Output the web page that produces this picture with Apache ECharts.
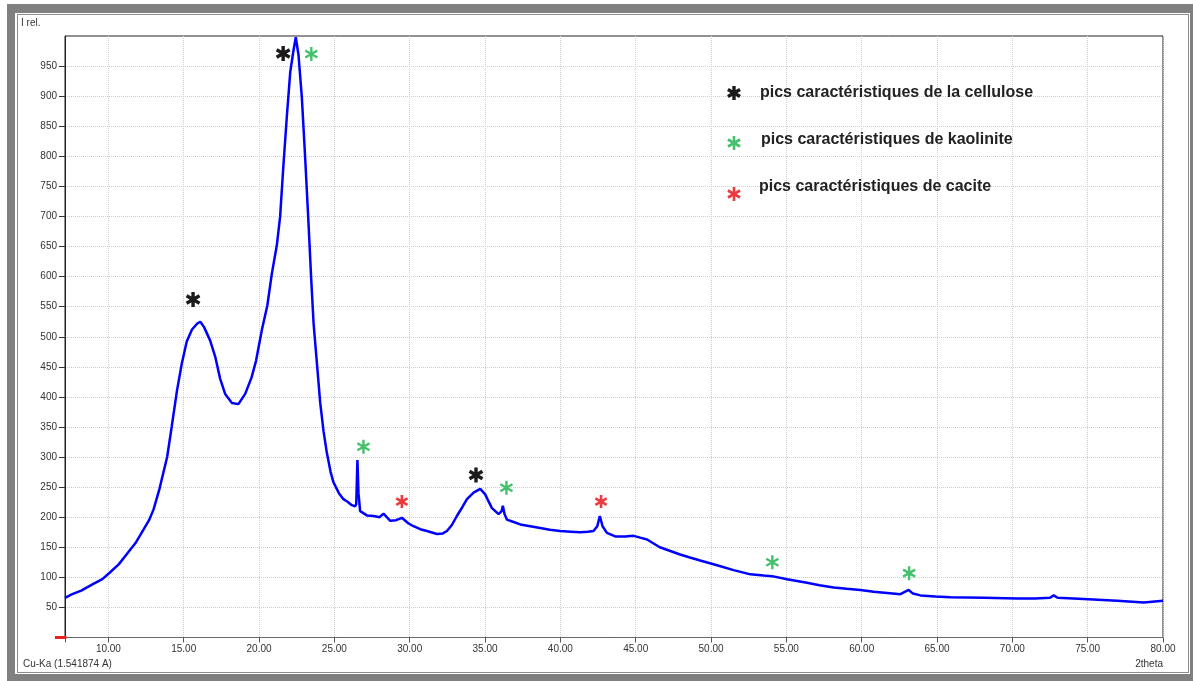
<!DOCTYPE html>
<html>
<head>
<meta charset="utf-8">
<script src="https://cdn.jsdelivr.net/npm/echarts@6/dist/echarts.min.js"></script>
<style>
  html, body { margin: 0; padding: 0; background: #fff; }
  #frame { position: absolute; left: 7px; top: 4px; width: 1186px; height: 677px; background: #808080; }
  #panel { position: absolute; left: 15px; top: 13px; width: 1175px; height: 661px; background: #fff; }
  #inner { position: absolute; left: 17px; top: 14px; width: 1170px; height: 657px; border: 1px solid #8c8c8c; }
  #chart { position: absolute; left: 0; top: 0; width: 1193px; height: 681px; }
</style>
</head>
<body>
<div id="frame"></div>
<div id="panel"></div>
<div id="inner"></div>
<div id="chart"></div>
<script>
// Diffractogram: 2theta (degrees) vs relative intensity
const twoTheta = [
  7.12, 7.6, 8.2, 9.0, 9.6, 10.1, 10.7, 11.2, 11.8, 12.3, 12.7, 13.0, 13.4, 13.9, 14.2, 14.55,
  14.87, 15.2, 15.55, 15.9, 16.1, 16.35, 16.75, 17.1, 17.42, 17.75, 18.2, 18.63, 19.08, 19.5,
  19.8, 20.2, 20.55, 20.85, 21.18, 21.4, 21.62, 21.85, 22.07, 22.28, 22.44, 22.62, 22.84, 23.06,
  23.28, 23.46, 23.62, 23.84, 24.06, 24.28, 24.5, 24.75, 24.94, 25.3, 25.6, 25.85, 26.16, 26.38,
  26.45, 26.53, 26.6, 26.71, 27.16, 27.6, 28.0, 28.26, 28.71, 29.1, 29.48, 29.9, 30.25, 30.7,
  31.14, 31.81, 32.2, 32.47, 32.8, 33.13, 33.5, 33.8, 34.24, 34.68, 35.01, 35.2, 35.46, 35.9,
  36.1, 36.18, 36.3, 36.45, 36.9, 37.34, 38.0, 38.66, 39.3, 39.99, 40.7, 41.32, 41.8, 42.2,
  42.45, 42.62, 42.8, 43.09, 43.64, 44.3, 44.86, 45.3, 45.75, 46.6, 47.95, 48.6, 49.28, 50.4,
  51.5, 52.61, 53.5, 54.05, 55.05, 56.37, 57.2, 58.14, 59.0, 59.91, 60.8, 61.69, 62.57, 63.12,
  63.4, 63.9, 64.9, 65.89, 68.1, 70.32, 71.5, 72.5, 72.75, 73.0, 74.74, 76.96, 78.73, 80.0
];
const intensity = [
  66, 72, 78, 89, 97, 108, 122, 138, 157, 178, 195, 213, 248, 300, 350, 410,
  455, 492, 512, 522, 525, 516, 494, 466, 430, 405, 390, 388, 405, 432,
  460, 513, 552, 605, 652, 700, 786, 868, 940, 975, 998, 968, 898, 798,
  690, 597, 522, 456, 390, 343, 307, 275, 258, 240, 230, 226, 220, 218,
  222, 295, 240, 210, 203, 202, 200, 206, 194, 195, 199, 190, 185, 180,
  177, 172, 173, 177, 187, 202, 217, 230, 241, 247, 238, 228, 215, 205,
  210, 219, 205, 196, 192, 188, 185, 182, 179, 177, 176, 175, 176, 177,
  185, 202, 185, 174, 168, 168, 169, 166, 163, 150, 138, 133, 128, 120,
  112, 105, 103, 102, 97, 91, 87, 83, 81, 79, 76, 74, 72, 79,
  73, 70, 68, 67, 66, 65, 65, 66, 70, 66, 64, 61, 58, 61
];

// Peak annotations [2theta, intensity]
const cellulosePeaks = [[15.62, 562], [21.60, 971], [34.40, 270]];
const kaolinitePeaks = [[23.47, 970], [26.93, 317], [36.42, 249], [54.07, 125], [63.15, 107]];
const calcitePeaks = [[29.48, 226], [42.70, 226]];

const legendLabels = [
  'pics caractéristiques de la cellulose',
  'pics caractéristiques de kaolinite',
  'pics caractéristiques de cacite'
];

const xMin = 7.12, xMax = 80;
const yMin = 0, yMax = 1000, yStep = 50;
const yTickValues = [];
for (let v = yMin + yStep; v < yMax; v += yStep) yTickValues.push(v);

const FONT = '"Liberation Sans", Arial, sans-serif';
const BLACK = '#1b1b1b', GREEN = '#45c06c', RED = '#ec3a3e';

// six-armed asterisk centred on (cx, cy) with arm length r
function starPath(cx, cy, r) {
  const a = 0.866 * r, b = 0.5 * r;
  return `M${cx},${cy - r}L${cx},${cy + r}` +
         `M${cx - a},${cy - b}L${cx + a},${cy + b}` +
         `M${cx - a},${cy + b}L${cx + a},${cy - b}`;
}
const starSymbol = 'path://' + starPath(10, 10, 10);

function markSeries(data, color, size, width) {
  return {
    type: 'scatter', data: data, symbol: starSymbol, symbolSize: size,
    symbolKeepAspect: true, silent: true, z: 5,
    itemStyle: { color: 'transparent', borderColor: color, borderWidth: width, opacity: 1 }
  };
}

// the same asterisk as three graphic line elements (legend)
function starLines(cx, cy, r, color, width) {
  const a = 0.866 * r, b = 0.5 * r;
  const segs = [[cx, cy - r, cx, cy + r], [cx - a, cy - b, cx + a, cy + b], [cx - a, cy + b, cx + a, cy - b]];
  return segs.map(s => ({
    type: 'line', z: 20, silent: true,
    shape: { x1: s[0], y1: s[1], x2: s[2], y2: s[3] },
    style: { stroke: color, lineWidth: width }
  }));
}

const chart = echarts.init(document.getElementById('chart'), null, { renderer: 'canvas' });

const option = {
  animation: false,
  backgroundColor: 'transparent',
  grid: { left: 65, top: 36, right: 30, bottom: 43.5, show: true, borderColor: '#222', borderWidth: 1, backgroundColor: 'transparent' },
  xAxis: {
    type: 'value', min: xMin, max: xMax, splitNumber: 14,
    axisLine: { show: true, lineStyle: { color: '#6a6a6a', width: 1 } },
    axisTick: { show: true, length: 5, lineStyle: { color: '#555' } },
    axisLabel: {
      color: '#333', fontSize: 10, fontFamily: FONT, margin: 7,
      formatter: v => (v < 9 ? '' : v.toFixed(2))
    },
    splitLine: { show: true, lineStyle: { type: 'dotted', color: '#cfcfcf', width: 1 } }
  },
  yAxis: {
    type: 'value', min: yMin, max: yMax, interval: yStep,
    axisLine: { show: true, lineStyle: { color: '#222', width: 1 } },
    axisTick: { show: true, length: 6, lineStyle: { color: '#333' }, customValues: yTickValues },
    axisLabel: {
      color: '#333', fontSize: 10, fontFamily: FONT, margin: 8,
      formatter: v => (v === yMin || v === yMax ? '' : String(v))
    },
    splitLine: { show: true, lineStyle: { type: 'dotted', color: '#cfcfcf', width: 1 } }
  },
  series: [
    {
      type: 'line', data: twoTheta.map((t, i) => [t, intensity[i]]),
      showSymbol: false, silent: true, z: 3,
      lineStyle: { color: '#0000ff', width: 2.5 }
    },
    markSeries(cellulosePeaks, BLACK, 15, 3.4),
    markSeries(kaolinitePeaks, GREEN, 14, 2.4),
    markSeries(calcitePeaks, RED, 13, 2.6)
  ]
};
chart.setOption(option);

// corner marker at the zero level, axis captions and the legend
const origin = chart.convertToPixel({ gridIndex: 0 }, [xMin, 0]);
const legendColors = [BLACK, GREEN, RED];
const legendStarY = [93, 143, 194];
const legendTextPos = [[760, 92.5], [761, 140], [759, 186.5]];

const graphics = [
  { type: 'line', z: 20, silent: true,
    shape: { x1: origin[0] - 10, y1: origin[1], x2: origin[0] + 1.5, y2: origin[1] },
    style: { stroke: '#e8211f', lineWidth: 3 } },
  { type: 'text', x: 21, y: 23, z: 20,
    style: { text: 'I rel.', font: `10px ${FONT}`, fill: '#333', verticalAlign: 'middle', align: 'left' } },
  { type: 'text', x: 23, y: 664, z: 20,
    style: { text: 'Cu-Ka (1.541874 A)', font: `10px ${FONT}`, fill: '#333', verticalAlign: 'middle', align: 'left' } },
  { type: 'text', x: 1163, y: 664, z: 20,
    style: { text: '2theta', font: `10px ${FONT}`, fill: '#333', verticalAlign: 'middle', align: 'right' } }
];
legendLabels.forEach((label, i) => {
  starLines(734, legendStarY[i], 7, legendColors[i], i === 0 ? 3.4 : 2.6).forEach(g => graphics.push(g));
  graphics.push({
    type: 'text', x: legendTextPos[i][0], y: legendTextPos[i][1], z: 20,
    style: { text: label, font: `bold 16px ${FONT}`, fill: '#222', verticalAlign: 'middle', align: 'left' }
  });
});
chart.setOption({ graphic: graphics });
</script>
</body>
</html>
